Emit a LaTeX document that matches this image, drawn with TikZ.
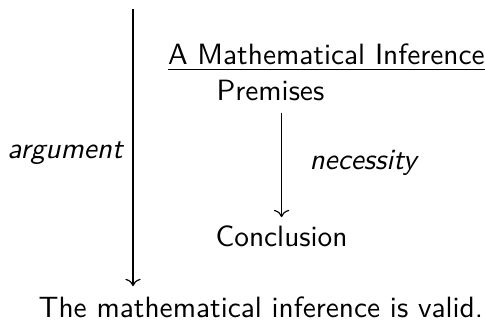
\documentclass[tikz,border=0pt]{standalone}
\usepackage{amsmath, amssymb}
\usepackage{tikz}
\usetikzlibrary{arrows.meta, positioning, calc}

\begin{document}
\begin{tikzpicture}[>=To]
  \tikzstyle{term} = [inner sep=0pt, anchor=base west, font=\sffamily]
  \tikzstyle{tag} = [font=\sffamily\itshape]
  \tikzstyle{link} = [->]

  \useasboundingbox (0, 0) rectangle (5.808, -3.832);

  % Inference block
  \node [term] (title) at (2.006, -0.778) {\underline{A Mathematical Inference}};
  \node [term] (premises) at (2.587, -1.198) {Premises};
  \node [term] (conclusion) at (2.575, -2.958) {Conclusion};
  \node [term] (verdict) at (0.455, -3.808) {The mathematical inference is valid.};

  % Arrows with their labels
  \coordinate (argtop) at (1.593, -0.108);
  \draw[link, shorten >=3.6pt] (argtop) -- node[tag, left] (argument) {argument} (argtop |- verdict.north);
  \draw[link, shorten <=4pt, shorten >=2.9pt] (premises.south -| conclusion.north) -- node[tag, right=6pt] (necessity) {necessity} (conclusion.north);
\end{tikzpicture}
\end{document}
